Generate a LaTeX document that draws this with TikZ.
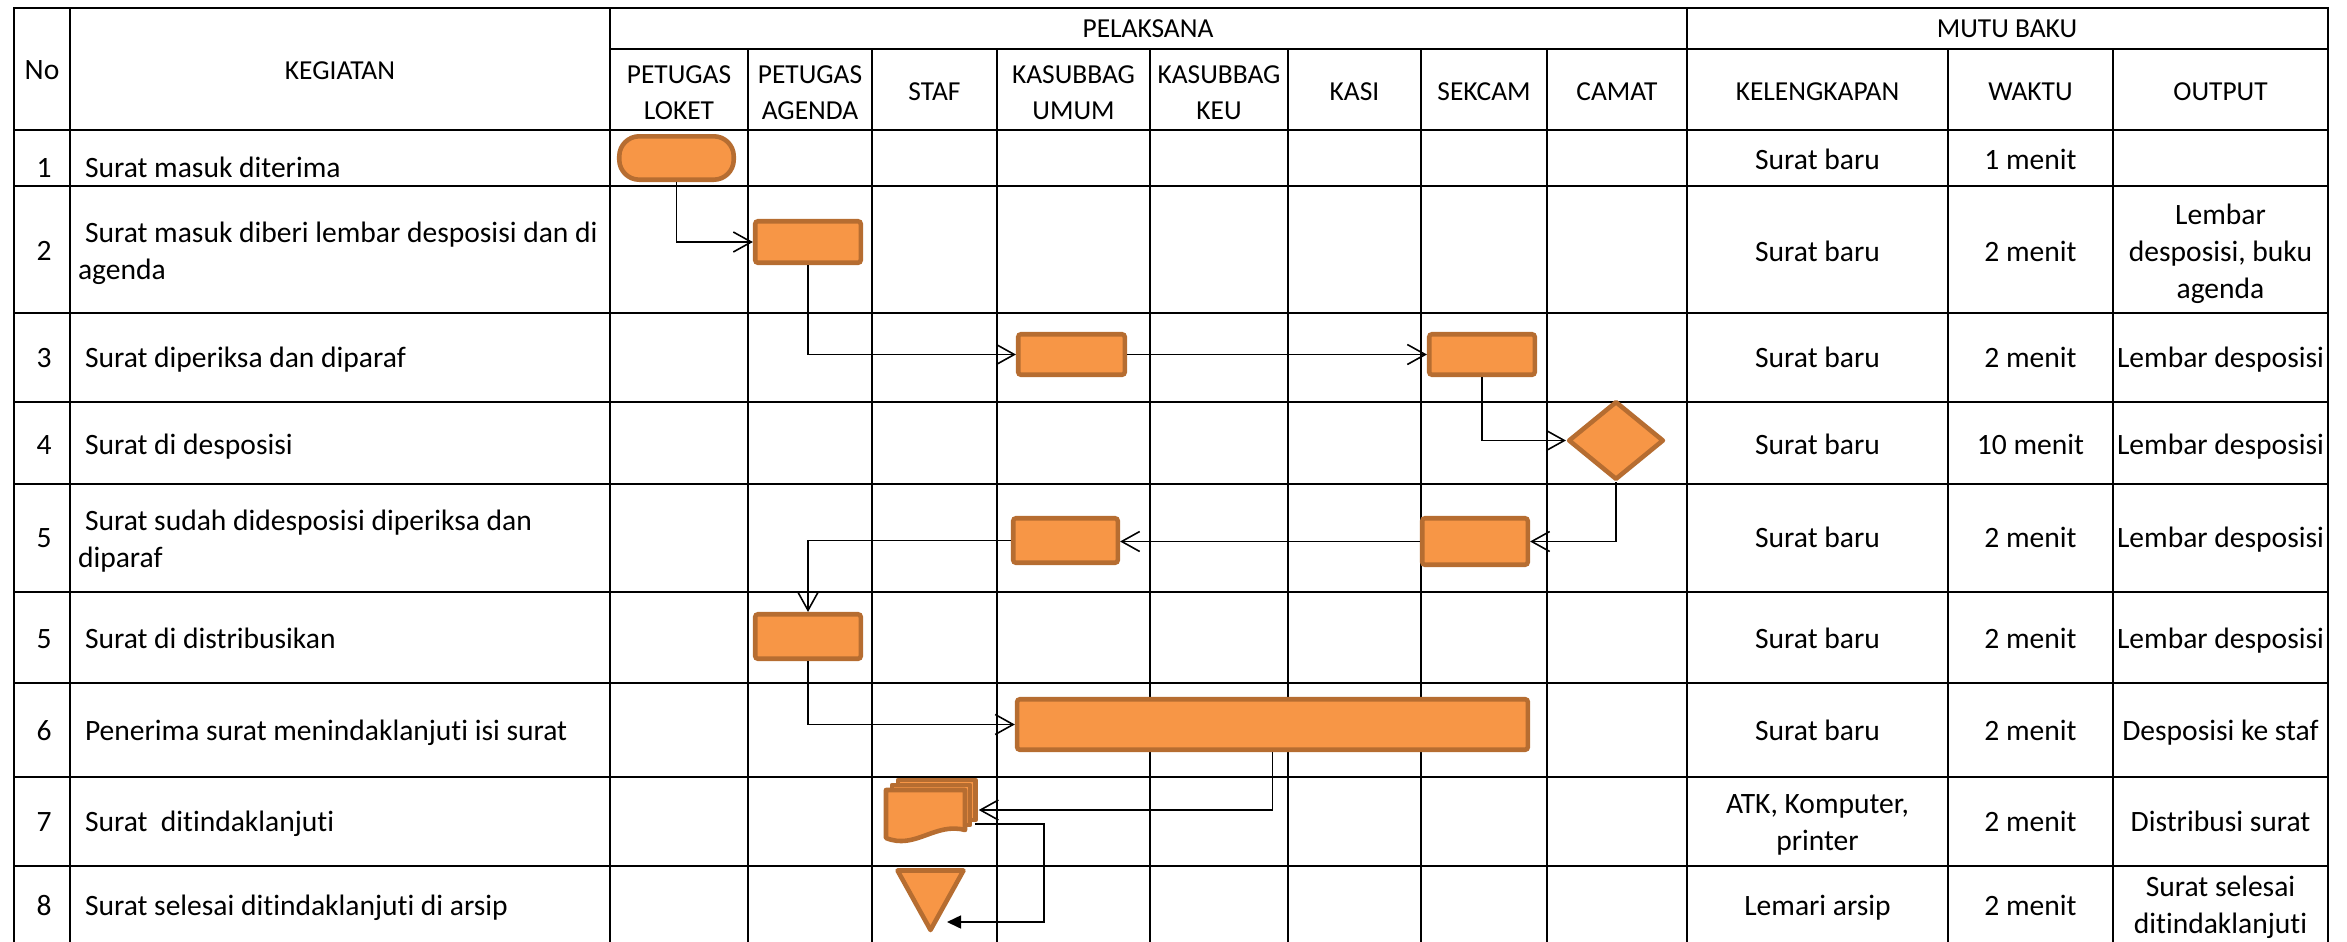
\documentclass[tikz,border=0pt]{standalone}
\usepackage{fontspec}
\setmainfont{Carlito}[Ligatures={NoCommon}]
\usetikzlibrary{arrows.meta,shapes.geometric}
\definecolor{org}{HTML}{F79646}
\definecolor{brd}{HTML}{B66D31}
\begin{document}
\begin{tikzpicture}[x=0.01cm, y=-0.01cm,
  txt/.style={inner sep=0pt, outer sep=0pt, font=\fontsize{8.4}{10.5}\selectfont},
  hdr/.style={font=\fontsize{7.8}{10.3}\selectfont},
  tb/.style={txt, anchor=base},
  tl/.style={txt, anchor=base west},
  tc/.style={txt, anchor=center, align=center},
  tml/.style={txt, anchor=west, align=left},
  proc/.style={rectangle, draw=brd, fill=org, line width=1.3pt, inner sep=0pt, rounded corners=0.8pt},
  shp/.style={draw=brd, fill=org, line width=1.3pt, line join=round},
  conn/.style={draw=black, line width=0.45pt, -{Straight Barb[length=0.18cm,width=0.2cm]}},
  hl/.style={line width=0.8pt, line cap=rect},
  vl/.style={line width=0.7pt, line cap=rect},
]
\useasboundingbox (0,0) rectangle (2347,942);

% ---------- grid ----------
\foreach \y in {8,130,186,313,402,484,592,683,777,866}
  \draw[hl] (14,\y) -- (2328,\y);
\draw[hl] (610,49) -- (2328,49);
\foreach \x in {14,70,610,1687,2328}
  \draw[vl] (\x,8) -- (\x,942);
\foreach \x in {748,872,997,1150,1288,1421,1547,1948,2113}
  \draw[vl] (\x,49) -- (\x,942);

% ---------- header ----------
\node[tb] (hNo) at (42,79) {No};
\node[tb, hdr] (hKeg) at (340,79) {KEGIATAN};
\node[tb, hdr] (hPel) at (1148,37) {PELAKSANA};
\node[tb, hdr] (hMutu) at (2007,37) {MUTU BAKU};
\node[tc, hdr] (hLoket) at (679,93) {PETUGAS\\LOKET};
\node[tc, hdr] (hAgenda) at (810,93) {PETUGAS\\AGENDA};
\node[tb, hdr] (hStaf) at (934.5,100) {STAF};
\node[tc, hdr] (hUmum) at (1073.5,93) {KASUBBAG\\UMUM};
\node[tc, hdr] (hKeu) at (1219,93) {KASUBBAG\\KEU};
\node[tb, hdr] (hKasi) at (1354.5,100) {KASI};
\node[tb, hdr] (hSekcam) at (1484,100) {SEKCAM};
\node[tb, hdr] (hCamat) at (1617,100) {CAMAT};
\node[tb, hdr] (hKel) at (1817.5,100) {KELENGKAPAN};
\node[tb, hdr] (hWaktu) at (2030.5,100) {WAKTU};
\node[tb, hdr] (hOut) at (2220.5,100) {OUTPUT};

% ---------- rows ----------
% row 1
\node[tb] (n1) at (44,177) {1};
\node[tl] (k1) at (85,177) {Surat masuk diterima};
\node[tb] (l1) at (1817.5,169) {Surat baru};
\node[tb] (w1) at (2030.5,169) {1 menit};
% row 2
\node[tb] (n2) at (44,260.5) {2};
\node[tml] (k2) at (78,253.5) {\hspace*{0.07cm}Surat masuk diberi lembar desposisi dan di\\agenda};
\node[tb] (l2) at (1817.5,261) {Surat baru};
\node[tb] (w2) at (2030.5,261) {2 menit};
\node[tc] (o2) at (2220.5,254) {Lembar\\desposisi, buku\\agenda};
% row 3
\node[tb] (n3) at (44,367.5) {3};
\node[tl] (k3) at (85,367.5) {Surat diperiksa dan diparaf};
\node[tb] (l3) at (1817.5,367.5) {Surat baru};
\node[tb] (w3) at (2030.5,367.5) {2 menit};
\node[tb] (o3) at (2220.5,367.5) {Lembar desposisi};
% row 4
\node[tb] (n4) at (44,454.5) {4};
\node[tl] (k4) at (85,454.5) {Surat di desposisi};
\node[tb] (l4) at (1817.5,454.5) {Surat baru};
\node[tb] (w4) at (2030.5,454.5) {10 menit};
\node[tb] (o4) at (2220.5,454.5) {Lembar desposisi};
% row 5
\node[tb] (n5) at (44,547.7) {5};
\node[tml] (k5) at (78,541) {\hspace*{0.07cm}Surat sudah didesposisi diperiksa dan\\diparaf};
\node[tb] (l5) at (1817.5,547.7) {Surat baru};
\node[tb] (w5) at (2030.5,547.7) {2 menit};
\node[tb] (o5) at (2220.5,547.7) {Lembar desposisi};
% row 5b
\node[tb] (n5b) at (44,648) {5};
\node[tl] (k5b) at (85,648) {Surat di distribusikan};
\node[tb] (l5b) at (1817.5,648) {Surat baru};
\node[tb] (w5b) at (2030.5,648) {2 menit};
\node[tb] (o5b) at (2220.5,648) {Lembar desposisi};
% row 6
\node[tb] (n6) at (44,740) {6};
\node[tl] (k6) at (85,740) {Penerima surat menindaklanjuti isi surat};
\node[tb] (l6) at (1817.5,740) {Surat baru};
\node[tb] (w6) at (2030.5,740) {2 menit};
\node[tb] (o6) at (2220.5,740) {Desposisi ke staf};
% row 7
\node[tb] (n7) at (44,831) {7};
\node[tl] (k7) at (85,831) {Surat\ \ ditindaklanjuti};
\node[tc] (l7) at (1817.5,825) {ATK, Komputer,\\printer};
\node[tb] (w7) at (2030.5,831) {2 menit};
\node[tb] (o7) at (2220.5,831) {Distribusi surat};
% row 8
\node[tb] (n8) at (44,915) {8};
\node[tl] (k8) at (85,915) {Surat selesai ditindaklanjuti di arsip};
\node[tb] (l8) at (1817.5,915) {Lemari arsip};
\node[tb] (w8) at (2030.5,915) {2 menit};
\node[tc] (o8) at (2220.5,907) {Surat selesai\\ditindaklanjuti};

% ---------- flow shapes ----------
\node[proc, rounded corners=0.2cm, minimum width=1.144cm, minimum height=0.434cm] (T1) at (676.5,158) {};
\node[proc, minimum width=1.055cm, minimum height=0.415cm] (B2) at (808,242) {};
\node[proc, minimum width=1.065cm, minimum height=0.405cm] (B3a) at (1071.5,354.5) {};
\node[proc, minimum width=1.055cm, minimum height=0.405cm] (B3b) at (1482,354.5) {};
\node[shp, shape=diamond, inner sep=0pt, minimum width=0.955cm, minimum height=0.785cm] (D4) at (1616,440.5) {};
\node[proc, minimum width=1.055cm, minimum height=0.465cm] (B5a) at (1475,541.5) {};
\node[proc, minimum width=1.045cm, minimum height=0.445cm] (B5b) at (1065.5,540.5) {};
\node[proc, minimum width=1.055cm, minimum height=0.445cm] (B5c) at (808,636.5) {};
\node[proc, minimum width=5.105cm, minimum height=0.505cm] (B6) at (1272.5,724.5) {};

% multi-document
\node[inner sep=0pt, minimum width=0.94cm, minimum height=0.64cm] (MD) at (931,810) {};
\draw[shp] (898,780) rectangle (975.5,820);
\draw[shp] (892,785) rectangle (970,825);
\draw[shp] (886,790) -- (965,790) -- (965,830)
  .. controls (935,822) and (915,850) .. (886,838) -- cycle;

% merge (triangle)
\draw[shp] (897.5,870.5) -- (963.5,870.5) -- (930.5,930) -- cycle;
\coordinate (mdOut) at (975,824);
\coordinate (mergeIn) at (947,922);

% ---------- connectors ----------
\draw[conn] (T1.south) |- (B2.west);
\draw[conn] (B2.south) |- (B3a.west);
\draw[conn] (B3a.east) -- (B3b.west);
\draw[conn] (B3b.south) |- (D4.west);
\draw[conn] (D4.south) |- (B5a.east);
\draw[conn] (B5a.west) -- (B5a.west -| B5b.east);
\draw[conn] (B5b.west) -| (B5c.north);
\draw[conn] (B5c.south) |- (B6.west);
\draw[conn] (B6.south) |- (MD.east);
\draw[line width=0.45pt, -{Triangle[length=0.14cm,width=0.13cm]}] (mdOut) -- (1044,824) |- (mergeIn);
\end{tikzpicture}
\end{document}
